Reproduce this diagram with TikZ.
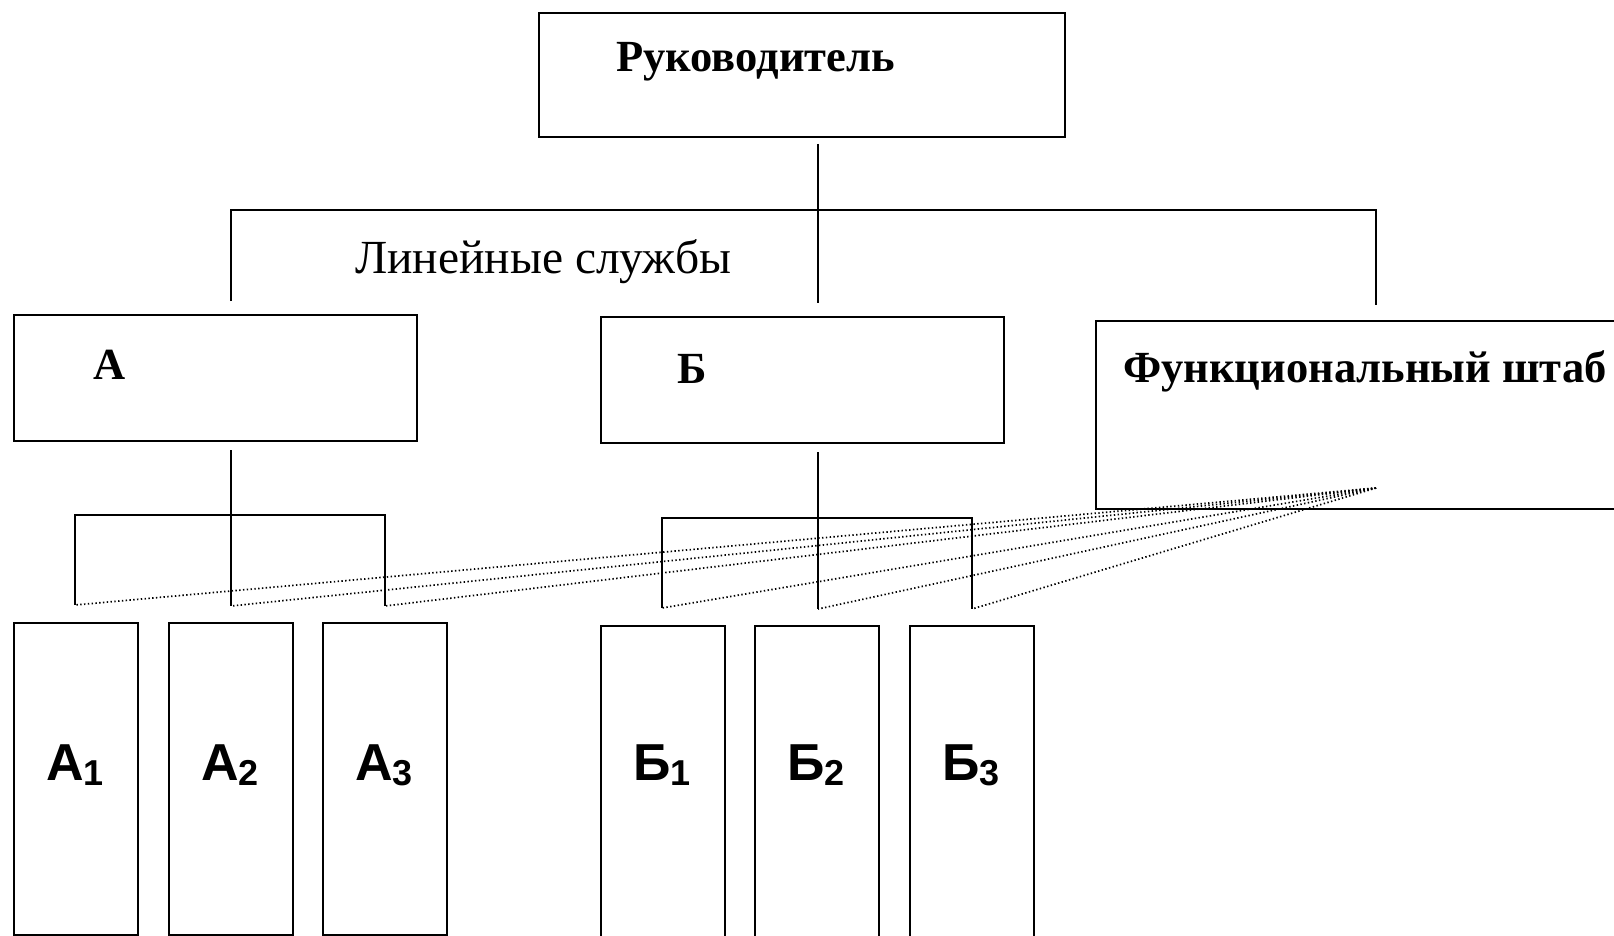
\documentclass[tikz,border=0pt]{standalone}
\usepackage{fontspec}
\setmainfont{Liberation Serif}
\newfontfamily\unitfont{Liberation Sans}
\begin{document}
\begin{tikzpicture}[x=1pt,y=-1pt,
  box/.style={draw, line width=2.3pt, inner sep=0pt, anchor=north west},
  link/.style={line width=2pt},
  staff/.style={line width=1.7pt, dash pattern=on 1.4pt off 2.4pt},
  title/.style={font=\fontsize{44.5}{50}\selectfont\bfseries, inner sep=0pt, anchor=base west},
  plain/.style={font=\fontsize{47.5}{54}\selectfont, inner sep=0pt, anchor=base west},
  unit/.style={font=\unitfont\fontsize{52}{60}\selectfont\bfseries, inner sep=0pt, anchor=base}]
\useasboundingbox (0,0) rectangle (1614,936);
\fill[white] (0,0) rectangle (1614,936);

% head of the organisation
\node[box, minimum width=526, minimum height=124] (boss) at (538,12) {};
\node[title] (bossText) at (616,72) {Руководитель};

% line services and functional staff
\node[box, minimum width=403, minimum height=126] (A) at (13,314) {};
\node[title] (AText) at (93,379) {А};
\node[box, minimum width=403, minimum height=126] (B) at (600,316) {};
\node[title] (BText) at (677,383) {Б};
\node[box, minimum width=540, minimum height=188] (F) at (1095,320) {};
\node[title] (FText) at (1123,382) {Функциональный штаб};
\node[plain] (lineText) at (355,273) {Линейные службы};

% subordinate units
\foreach \n/\x/\y/\l/\d in {A1/13/622/А/1, A2/168/622/А/2, A3/322/622/А/3,
                            B1/600/625/Б/1, B2/754/625/Б/2, B3/909/625/Б/3}{
  \node[box, minimum width=124, minimum height=312] (\n) at (\x,\y) {};
  \pgfmathsetmacro\cx{\x+62}
  \node[unit] (\n text) at (\cx,780) {\l\raisebox{-5pt}{\fontsize{36}{40}\selectfont\d}};
}

% upper tree
\coordinate (bossStem) at (818,144);
\coordinate (hub) at (818,210);
\coordinate (lineL) at (231,210);
\coordinate (lineR) at (1376,210);
\coordinate (toA) at (231,301);
\coordinate (toB) at (818,303);
\coordinate (toF) at (1376,305);
\draw[link] (bossStem) -- (hub) -- (toB);
\draw[link] (toA) -- (lineL) -- (lineR) -- (toF);

% tree under A
\coordinate (aStem) at (231,450);
\coordinate (aL) at (75,515);
\coordinate (aR) at (385,515);
\coordinate (a1) at (75,605);
\coordinate (a2) at (231,606);
\coordinate (a3) at (385,606);
\draw[link] (aStem) -- (a2);
\draw[link] (a1) -- (aL) -- (aR) -- (a3);

% tree under B
\coordinate (bStem) at (818,452);
\coordinate (bL) at (662,518);
\coordinate (bR) at (972,518);
\coordinate (b1) at (662,608);
\coordinate (b2) at (818,609);
\coordinate (b3) at (972,609);
\draw[link] (bStem) -- (b2);
\draw[link] (b1) -- (bL) -- (bR) -- (b3);

% functional links from the staff
\coordinate (staffPt) at (1376,488);
\foreach \t in {a1,a2,a3,b1,b2,b3}
  \draw[staff] (staffPt) -- (\t);
\end{tikzpicture}
\end{document}
